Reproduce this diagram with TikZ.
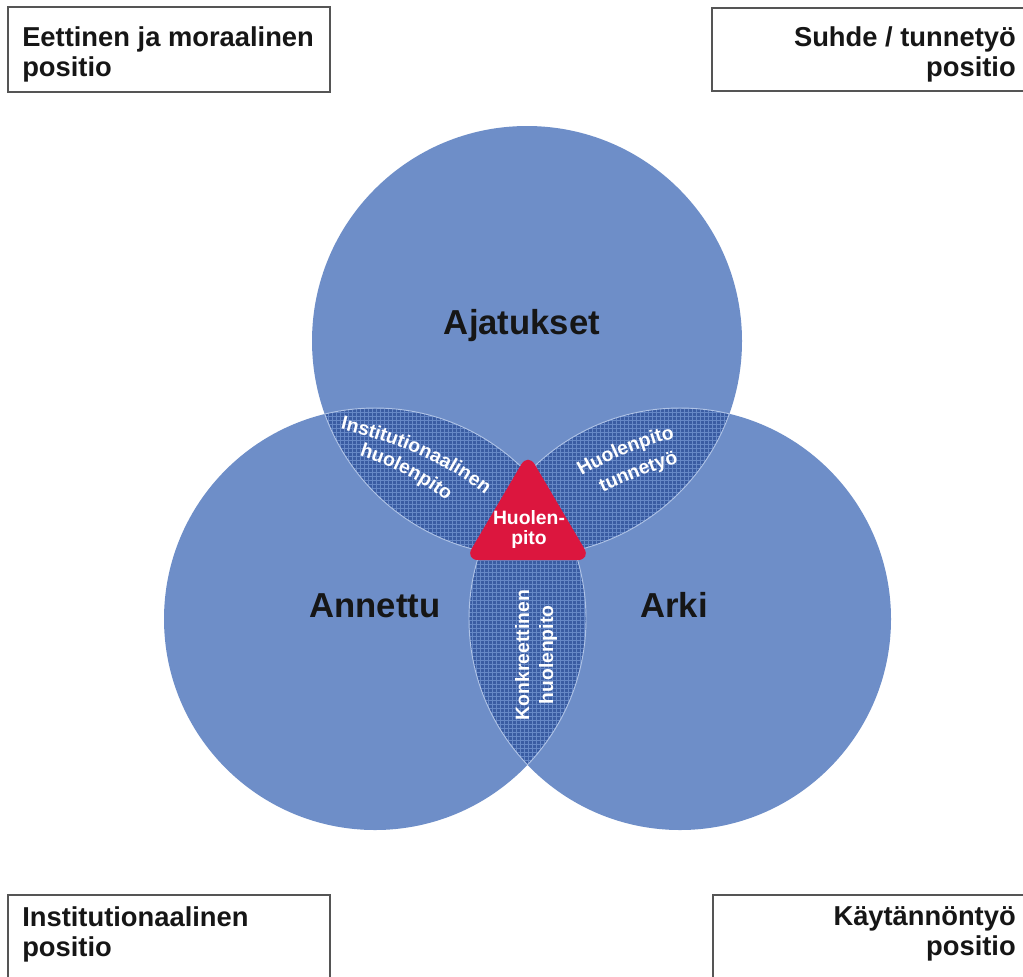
\documentclass[tikz,border=0pt]{standalone}
\usepackage{fontspec}
\setmainfont{Liberation Sans}
\usetikzlibrary{patterns,decorations.text}
\definecolor{circ}{RGB}{110,142,200}
\definecolor{lensc}{RGB}{58,92,162}
\definecolor{gridc}{RGB}{102,136,198}
\definecolor{edgec}{RGB}{175,195,230}
\definecolor{redc}{RGB}{220,22,62}
\definecolor{boxc}{RGB}{85,85,85}
\definecolor{txt}{RGB}{22,22,22}
\newcommand\lensfnt{\fontsize{14.5}{17}\selectfont\bfseries}
\begin{document}
\begin{tikzpicture}[x=0.75pt,y=-0.75pt,
  posbox/.style={draw=boxc, line width=1.1pt, fill=white},
  postext/.style={font=\bfseries\fontsize{20.5}{22.5}\selectfont, text=txt, inner sep=0pt},
  bigtext/.style={font=\bfseries\fontsize{26}{30}\selectfont, text=txt, inner sep=0pt},
  lenstext/.style={font=\bfseries\fontsize{14.5}{18}\selectfont, text=white, align=center, inner sep=0pt},
  lensfill/.style={fill=lensc},
  lensgrid/.style={pattern=grid, pattern color=gridc},
  lensedge/.style={draw=edgec, line width=0.7pt},
  curvetext/.style={decorate, decoration={text along path, text align=center, text color=white, text={|\lensfnt|#1}}},
]
\useasboundingbox (0,0) rectangle (1023,976);
\fill[white] (0,0) rectangle (1023,976);

% circle centres
\coordinate (cT) at (527,341);
\coordinate (cL) at (375,619);
\coordinate (cR) at (680,619);
\def\rT{161.25pt}
\def\rS{158.25pt}

% base circles
\fill[circ] (cT) circle[radius=\rT];
\fill[circ] (cL) circle[radius=\rS];
\fill[circ] (cR) circle[radius=\rS];

% pairwise intersections
\begin{scope}
  \clip (cT) circle[radius=\rT];
  \fill[lensfill] (cL) circle[radius=\rS];
  \fill[lensgrid] (cL) circle[radius=\rS];
  \fill[lensfill] (cR) circle[radius=\rS];
  \fill[lensgrid] (cR) circle[radius=\rS];
\end{scope}
\begin{scope}
  \clip (cL) circle[radius=\rS];
  \fill[lensfill] (cR) circle[radius=\rS];
  \fill[lensgrid] (cR) circle[radius=\rS];
\end{scope}

% lens edges
\begin{scope}
  \clip (cT) circle[radius=\rT];
  \draw[lensedge] (cL) circle[radius=\rS];
  \draw[lensedge] (cR) circle[radius=\rS];
\end{scope}
\begin{scope}
  \clip (cL) circle[radius=\rS];
  \draw[lensedge] (cT) circle[radius=\rT];
  \draw[lensedge] (cR) circle[radius=\rS];
\end{scope}
\begin{scope}
  \clip (cR) circle[radius=\rS];
  \draw[lensedge] (cT) circle[radius=\rT];
  \draw[lensedge] (cL) circle[radius=\rS];
\end{scope}

% central triangle
\fill[redc, rounded corners=10pt] (528,453) -- (591,560) -- (465,560) -- cycle;

% circle labels
\node[bigtext, anchor=base] (ajatukset) at (522,334) {Ajatukset};
\node[bigtext, anchor=base] (annettu) at (375,617) {Annettu};
\node[bigtext, anchor=base] (arki) at (674,617) {Arki};

% lens labels (curved)
\coordinate (i1a) at (333,427); \coordinate (i1b) at (491,499);
\coordinate (i2a) at (337,450); \coordinate (i2b) at (464,516);
\path[curvetext=Institutionaalinen] (i1a) .. controls (389,440) and (447,462) .. (i1b);
\path[curvetext=huolenpito] (i2a) .. controls (380,460) and (425,479) .. (i2b);
\coordinate (t1a) at (570,483); \coordinate (t1b) at (688,435);
\coordinate (t2a) at (590,498); \coordinate (t2b) at (692,459);
\path[curvetext=Huolenpito] (t1a) .. controls (605,461) and (648,443) .. (t1b);
\path[curvetext=tunnetyö] (t2a) .. controls (625,482) and (660,467) .. (t2b);

\node[lenstext, rotate=90] (konk) at (536,655) {Konkreettinen\\huolenpito};
\node[lenstext, font=\bfseries\fontsize{14.5}{15}\selectfont] (huolen) at (529,529) {Huolen-\\pito};

% corner boxes
\draw[posbox] (8,7) rectangle (330,92);
\draw[posbox] (712,8) rectangle (1035,91);
\draw[posbox] (8,895) rectangle (330,990);
\draw[posbox] (713,895) rectangle (1035,990);

\node[postext, anchor=north west, align=left] (eettinen) at (22,26) {Eettinen ja moraalinen\\positio};
\node[postext, anchor=north east, align=right] (suhde) at (1016,26) {Suhde / tunnetyö\\positio};
\node[postext, anchor=north west, align=left] (instpos) at (22,906) {Institutionaalinen\\positio};
\node[postext, anchor=north east, align=right] (kaytanto) at (1016,906) {Käytännöntyö\\positio};
\end{tikzpicture}
\end{document}
